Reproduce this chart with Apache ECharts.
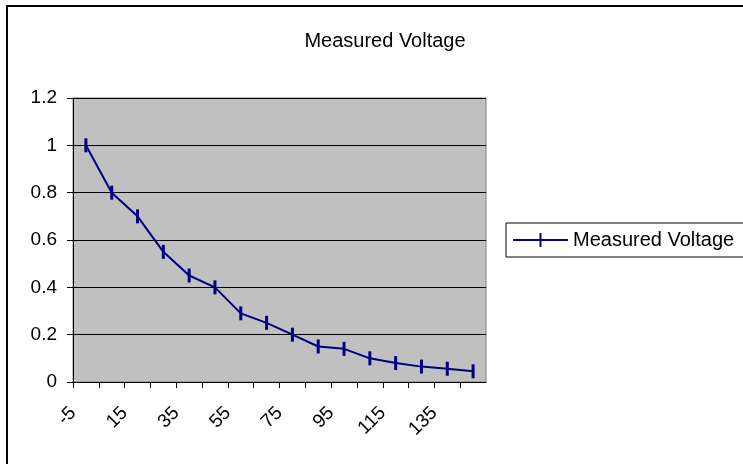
<!DOCTYPE html>
<html>
<head>
<meta charset="utf-8">
<script src="https://cdn.jsdelivr.net/npm/echarts@6/dist/echarts.min.js"></script>
<style>
    html, body { margin: 0; padding: 0; background: #fff; }
    #chart { width: 743px; height: 464px; }
</style>
</head>
<body>
<div id="chart"></div>
<script>
var xValues = [0, 10, 20, 30, 40, 50, 60, 70, 80, 90, 100, 110, 120, 130, 140, 150];
var voltage = [1.0, 0.8, 0.7, 0.55, 0.45, 0.4, 0.29, 0.25, 0.2, 0.15, 0.14, 0.1, 0.08, 0.065, 0.056, 0.045];
var xLabels = [-5, 15, 35, 55, 75, 95, 115, 135];

var font = "Liberation Sans, Arial, sans-serif";

var option = {
    animation: false,
    title: {
        text: "Measured Voltage",
        left: 380,
        top: 26,
        textAlign: "center",
        textStyle: {
            fontFamily: font,
            fontSize: 20,
            fontWeight: "normal",
            color: "#000",
        },
    },
    legend: {
        left: 506,
        top: 223,
        orient: "vertical",
        padding: [7, 80, 7, 7],
        borderColor: "#000",
        borderWidth: 1,
        itemWidth: 55,
        itemHeight: 14,
        itemGap: 0,
        icon: "path://M0,6 L55,6 L55,8 L0,8 Z M26.5,0 L28.5,0 L28.5,14 L26.5,14 Z",
        textStyle: {
            fontFamily: font,
            fontSize: 20,
            color: "#000",
        },
        data: ["Measured Voltage"],
    },
    graphic: [
        {
            type: "rect",
            shape: { x: 7, y: 6, width: 800, height: 500 },
            style: { fill: "none", stroke: "#000", lineWidth: 2 },
            silent: true,
        },
    ],
    grid: {
        left: 73,
        top: 98,
        width: 413,
        height: 284,
        show: true,
        backgroundColor: "#C0C0C0",
        borderColor: "#808080",
        borderWidth: 1,
    },
    xAxis: {
        type: "value",
        min: -5,
        max: 155,
        interval: 10,
        splitLine: { show: false },
        axisLine: { show: true, onZero: false, lineStyle: { color: "#000", width: 1 } },
        axisTick: { show: true, length: 6, lineStyle: { color: "#000" } },
        axisLabel: {
            rotate: 45,
            margin: 28,
            fontFamily: font,
            fontSize: 19,
            color: "#000",
            showMaxLabel: false,
            formatter: function (v) {
                return xLabels.indexOf(Math.round(v)) >= 0 ? String(Math.round(v)) : "";
            },
        },
    },
    yAxis: {
        type: "value",
        min: 0,
        max: 1.2,
        interval: 0.2,
        splitLine: { show: true, lineStyle: { color: "#000", width: 1 } },
        axisLine: { show: true, onZero: false, lineStyle: { color: "#000", width: 1 } },
        axisTick: { show: true, length: 6, lineStyle: { color: "#000" } },
        axisLabel: {
            margin: 16,
            fontFamily: font,
            fontSize: 19,
            color: "#000",
        },
    },
    series: [
        {
            name: "Measured Voltage",
            type: "line",
            data: xValues.map(function (x, i) {
                return [x, voltage[i]];
            }),
            lineStyle: { color: "#000080", width: 2 },
            itemStyle: { color: "#000080" },
            symbol: "rect",
            symbolSize: [3, 14],
            showSymbol: true,
        },
    ],
};

var myChart = echarts.init(document.getElementById("chart"));
option && myChart.setOption(option);
</script>
</body>
</html>
